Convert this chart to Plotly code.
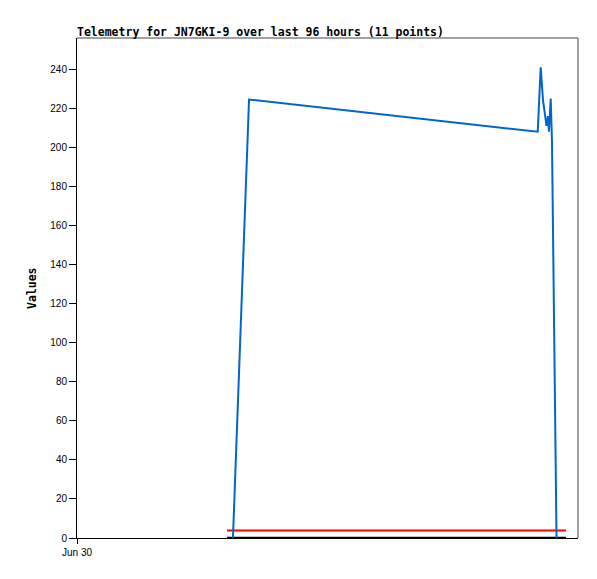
import plotly.graph_objects as go

# ---- data ----
blue_times = ["2024-07-01 05:53", "2024-07-01 08:58", "2024-07-03 16:17", "2024-07-03 16:51",
              "2024-07-03 17:18", "2024-07-03 17:58", "2024-07-03 18:15", "2024-07-03 18:26",
              "2024-07-03 18:46", "2024-07-03 19:01", "2024-07-03 19:53"]
blue_values = [0, 224.5, 208, 241, 224, 211, 216, 208, 225, 203, 0]

flat_times = ["2024-07-01 04:44", "2024-07-03 21:42"]
red_values = [3.8, 3.8]
black_values = [0, 0]

x_range = ["2024-06-30 00:00", "2024-07-04 00:00"]
y_ticks = list(range(0, 241, 20))
x_tick_vals = ["2024-06-30 00:00"]
x_tick_text = ["Jun 30"]

title_text = "Telemetry for JN7GKI-9 over last 96 hours (11 points)"
y_label = "Values"

fig = go.Figure()
fig.add_trace(go.Scatter(x=flat_times, y=red_values, mode="lines",
                         line=dict(color="#ff0000", width=2), showlegend=False))
fig.add_trace(go.Scatter(x=flat_times, y=black_values, mode="lines",
                         line=dict(color="#000000", width=2.5), showlegend=False))
fig.add_trace(go.Scatter(x=blue_times, y=blue_values, mode="lines",
                         line=dict(color="#0066cc", width=2), showlegend=False))

mono = "DejaVu Sans Mono"
# the page places the figure 8px in from the top-left corner
fig.update_layout(
    width=597, height=579,
    margin=dict(l=69, r=27, t=30, b=49),
    paper_bgcolor="white", plot_bgcolor="white",
    title=dict(text="<b>" + title_text + "</b>", x=69/597, xanchor="left", xref="container",
               y=1 - 23.5/579, yref="container", yanchor="middle",
               font=dict(family=mono, size=11.5, color="#000")),
    xaxis=dict(range=x_range, type="date", tickvals=x_tick_vals, ticktext=x_tick_text,
               showgrid=False, zeroline=False, showline=True, linecolor="#000", linewidth=1,
               ticks="outside", ticklen=5, tickcolor="#000",
               tickfont=dict(family="Liberation Sans", size=10, color="#000")),
    yaxis=dict(range=[0, 256], tickvals=y_ticks, showgrid=False, zeroline=False,
               showline=True, linecolor="#000", linewidth=1,
               ticks="outside", ticklen=7, tickcolor="#000",
               tickfont=dict(family="Liberation Sans", size=10, color="#000")),
    annotations=[dict(text="<b>" + y_label + "</b>", xref="paper", yref="paper",
                      x=(32 - 77) / 501, y=0.5, xanchor="center", yanchor="middle",
                      textangle=-90, showarrow=False,
                      font=dict(family=mono, size=11.5, color="#000"))],
    shapes=[
        dict(type="line", xref="paper", yref="paper", x0=0, x1=1, y0=1, y1=1,
             line=dict(color="#444", width=1)),
        dict(type="line", xref="paper", yref="paper", x0=1, x1=1, y0=0, y1=1,
             line=dict(color="#444", width=1)),
    ],
)

fig.write_html("out.html")
